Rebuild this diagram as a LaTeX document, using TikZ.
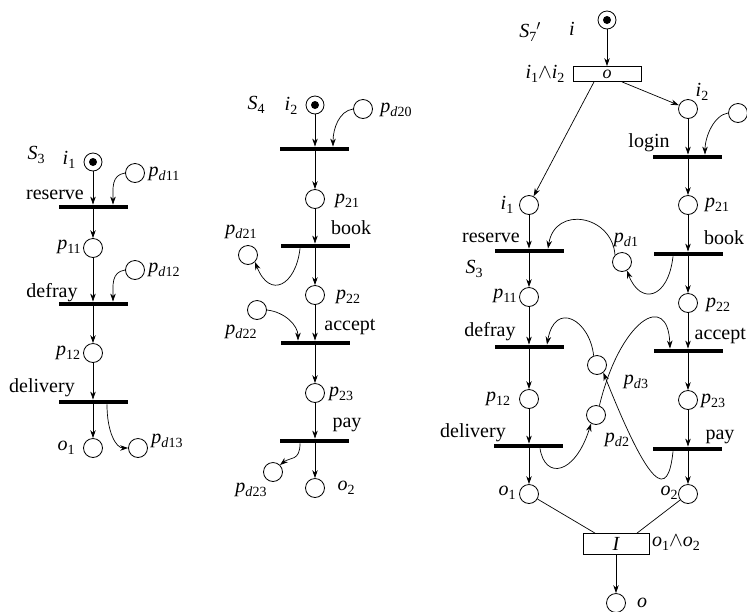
\documentclass[tikz,border=0pt]{standalone}
\usepackage{fontspec}
\setmainfont{Liberation Serif}
\usetikzlibrary{arrows.meta,calc}
\newcommand\lab[2]{\textit{#1}\raisebox{-0.22em}{\fontsize{14}{14}\selectfont #2}}
\newcommand\pd[1]{\lab{p}{\textit{d}#1}}
\begin{document}
\begin{tikzpicture}[x=1pt,y=-1pt,
 place/.style={circle,draw,line width=0.8pt,minimum size=19pt,inner sep=0pt},
 token/.style={place,minimum size=18pt,path picture={\fill (path picture bounding box.center) circle (4pt);}},
 bar/.style={fill=black,minimum width=69pt,minimum height=4.5pt,inner sep=0pt},
 tbox/.style={draw,line width=0.8pt,minimum width=68pt,minimum height=15pt,inner sep=0pt,font=\fontsize{18}{18}\selectfont\itshape},
 arc/.style={-{Stealth[length=8pt,width=5.5pt]},line width=0.7pt},
 ln/.style={line width=0.7pt},
 txt/.style={inner sep=0pt,font=\fontsize{20}{22}\selectfont},
]
\useasboundingbox (0,0) rectangle (747,611);

% ---------- left net S3 ----------
\node[token] (Li) at (93,162) {};
\node[bar] (Lr) at (93,207) {};
\node[place] (Lp11) at (93,248) {};
\node[bar] (Ld) at (93,304) {};
\node[place] (Lp12) at (93,353) {};
\node[bar] (Ldl) at (93,402) {};
\node[place] (Lo1) at (93,448) {};
\node[place] (Lpd11) at (135,173) {};
\node[place] (Lpd12) at (135,270) {};
\node[place] (Lpd13) at (138,448) {};

\draw[arc] (Li) -- (Li |- Lr.north);
\draw[arc] (Lr) -- (Lp11);
\draw[arc] (Lp11) -- (Lp11 |- Ld.north);
\draw[arc] (Ld) -- (Lp12);
\draw[arc] (Lp12) -- (Lp12 |- Ldl.north);
\draw[arc] (Ldl) -- (Lo1);
\draw[arc] (Lpd11.west) .. controls +(-14,2) and +(0,-16) .. ([xshift=20pt]Lr.north);
\draw[arc] (Lpd12.west) .. controls +(-14,2) and +(0,-16) .. ([xshift=20pt]Ld.north);
\draw[arc] ([xshift=14pt]Ldl.south) .. controls +(0,28) and +(-12,0) .. (Lpd13.west);

\node[txt] (tLS) at (36,155) {\lab{S}{3}};
\node[txt] (tLi) at (69,160) {\lab{i}{1}};
\node[txt] (tLpd11) at (164,174) {\pd{11}};
\node[txt] (tLres) at (55,195) {reserve};
\node[txt] (tLp11) at (69,247) {\lab{p}{11}};
\node[txt] (tLpd12) at (164,270) {\pd{12}};
\node[txt] (tLdef) at (52,293) {defray};
\node[txt] (tLp12) at (68,353) {\lab{p}{12}};
\node[txt] (tLdel) at (42,388) {delivery};
\node[txt] (tLo1) at (66,448) {\lab{o}{1}};
\node[txt] (tLpd13) at (167,441) {\pd{13}};

% ---------- middle net S4 ----------
\node[token] (Mi) at (315,105) {};
\node[place] (Mpd20) at (363,109) {};
\node[bar] (Mt0) at (314,149) {};
\node[place] (Mp21) at (315,199) {};
\node[bar] (Mb) at (315,246) {};
\node[place] (Mpd21) at (248,255) {};
\node[place] (Mp22) at (315,295) {};
\node[place] (Mpd22) at (257,310) {};
\node[bar] (Ma) at (315,343) {};
\node[place] (Mp23) at (315,393) {};
\node[bar] (Mpay) at (314,441) {};
\node[place] (Mpd23) at (273,472) {};
\node[place] (Mo2) at (315,488) {};

\draw[arc] (Mi) -- (Mi |- Mt0.north);
\draw[arc] (Mi |- Mt0.south) -- (Mp21);
\draw[arc] (Mp21) -- (Mp21 |- Mb.north);
\draw[arc] (Mp21 |- Mb.south) -- (Mp22);
\draw[arc] (Mp22) -- (Mp22 |- Ma.north);
\draw[arc] (Mp22 |- Ma.south) -- (Mp23);
\draw[arc] (Mp23) -- (Mp23 |- Mpay.north);
\draw[arc] (Mp23 |- Mpay.south) -- (Mo2);
\draw[arc] (Mpd20.west) .. controls +(-14,2) and +(0,-18) .. ([xshift=19pt]Mt0.north);
\draw[arc] ([xshift=-15pt]Mb.south) .. controls (296,285) and (270,300) .. (Mpd21.south east);
\draw[arc] (Mpd22.east) .. controls +(18,2) and +(0,-15) .. ([xshift=-17pt]Ma.north);
\draw[arc] ([xshift=-14pt]Mpay.south) .. controls +(0,18) and +(10,-8) .. (Mpd23.north east);

\node[txt] (tMS) at (256,105) {\lab{S}{4}};
\node[txt] (tMi) at (291,106) {\lab{i}{2}};
\node[txt] (tMpd20) at (396,110) {\pd{20}};
\node[txt] (tMp21) at (347,201) {\lab{p}{21}};
\node[txt] (tMbook) at (351,228) {book};
\node[txt] (tMpd21) at (241,232) {\pd{21}};
\node[txt] (tMp22) at (348,297) {\lab{p}{22}};
\node[txt] (tMacc) at (350,327) {accept};
\node[txt] (tMpd22) at (241,332) {\pd{22}};
\node[txt] (tMp23) at (341,394) {\lab{p}{23}};
\node[txt] (tMpay) at (347,425) {pay};
\node[txt] (tMpd23) at (251,490) {\pd{23}};
\node[txt] (tMo2) at (346,488) {\lab{o}{2}};

% ---------- right net S7' ----------
\node[token] (Ri) at (607,20) {};
\node[tbox] (Rbo) at (607,74) {o};
\node[place] (Ri2) at (688,109) {};
\node[place] (Rpd) at (738,113) {};
\node[bar] (Rlogin) at (687,157) {};
\node[place] (Ri1) at (529,205) {};
\node[place] (Rp21) at (688,205) {};
\node[bar] (Rres) at (529,251) {};
\node[bar] (Rbook) at (688,254) {};
\node[place] (Rpd1) at (622,262) {};
\node[place] (Rp11) at (529,297) {};
\node[place] (Rp22) at (688,303) {};
\node[bar] (Rdef) at (529,347) {};
\node[bar] (Racc) at (688,351) {};
\node[place] (Rpd3) at (597,365) {};
\node[place] (Rp12) at (529,399) {};
\node[place] (Rp23) at (688,400) {};
\node[place] (Rpd2) at (596,415) {};
\node[bar] (Rdel) at (528,446) {};
\node[bar] (Rpay) at (687,449) {};
\node[place] (Ro1) at (529,494) {};
\node[place] (Ro2) at (688,494) {};
\node[tbox,minimum width=66pt,minimum height=21pt,font=\fontsize{20}{20}\selectfont\itshape] (RI) at (616,544) {I};
\node[place] (Rout) at (616,603) {};

\draw[arc] (Ri) -- (Rbo);
\draw[arc] ([xshift=15pt]Rbo.south) -- (Ri2);
\draw[arc] ([xshift=-13pt]Rbo.south) -- (Ri1);
\draw[arc] (Ri2) -- (Ri2 |- Rlogin.north);
\draw[arc] (Ri2 |- Rlogin.south) -- (Rp21);
\draw[arc] (Rp21) -- (Rp21 |- Rbook.north);
\draw[arc] (Rp21 |- Rbook.south) -- (Rp22);
\draw[arc] (Rp22) -- (Rp22 |- Racc.north);
\draw[arc] (Rp22 |- Racc.south) -- (Rp23);
\draw[arc] (Rp23) -- (Rp23 |- Rpay.north);
\draw[arc] (Rp23 |- Rpay.south) -- (Ro2);
\draw[arc] (Ri1) -- (Ri1 |- Rres.north);
\draw[arc] (Ri1 |- Rres.south) -- (Rp11);
\draw[arc] (Rp11) -- (Rp11 |- Rdef.north);
\draw[arc] (Rp11 |- Rdef.south) -- (Rp12);
\draw[arc] (Rp12) -- (Rp12 |- Rdel.north);
\draw[arc] (Rp12 |- Rdel.south) -- (Ro1);
\draw[arc] (Rpd.west) .. controls +(-14,2) and +(0,-18) .. ([xshift=18pt]Rlogin.north);
\draw[arc] (Rpd1.north west) .. controls (612,215) and (555,205) .. ([xshift=19pt]Rres.north);
\draw[arc] ([xshift=-15pt]Rbook.south) .. controls (668,300) and (640,305) .. (Rpd1.-60);
\draw[arc] ([xshift=12pt]Rdel.south) .. controls (545,480) and (575,475) .. (Rpd2.-120);
\draw[arc] (Rpd2.70) .. controls (620,320) and (668,290) .. ([xshift=-18pt]Racc.north);
\draw[arc] ([xshift=-14pt]Rpay.south) .. controls (668,500) and (650,490) .. (Rpd3.-50);
\draw[arc] (Rpd3.110) .. controls (590,320) and (555,300) .. ([xshift=18pt]Rdef.north);
\draw[ln] (Ro1) -- ([xshift=-21pt]RI.north);
\draw[ln] (Ro2) -- ([xshift=21pt]RI.north);
\draw[arc] (RI) -- (Rout);

\node[txt] (tRS) at (530,32) {\lab{S}{7}${}'$};
\node[txt] (tRi) at (572,29) {\textit{i}};
\node[txt] (tRii) at (545,74) {\lab{i}{1}$\wedge$\lab{i}{2}};
\node[txt] (tRi2) at (702,92) {\lab{i}{2}};
\node[txt] (tRlogin) at (649,143) {login};
\node[txt] (tRi1) at (507,205) {\lab{i}{1}};
\node[txt] (tRp21) at (717,205) {\lab{p}{21}};
\node[txt] (tRres) at (491,238) {reserve};
\node[txt] (tRpd1) at (626,240) {\pd{1}};
\node[txt] (tRbook) at (724,238) {book};
\node[txt] (tRS3) at (474,269) {\lab{S}{3}};
\node[txt] (tRp11) at (505,296) {\lab{p}{11}};
\node[txt] (tRp22) at (718,305) {\lab{p}{22}};
\node[txt] (tRdef) at (490,332) {defray};
\node[txt,anchor=east] (tRacc) at (746,336) {accept};
\node[txt] (tRpd3) at (636,382) {\pd{3}};
\node[txt] (tRp12) at (498,399) {\lab{p}{12}};
\node[txt] (tRp23) at (713,401) {\lab{p}{23}};
\node[txt] (tRpd2) at (617,440) {\pd{2}};
\node[txt] (tRdel) at (473,433) {delivery};
\node[txt] (tRpay) at (720,437) {pay};
\node[txt] (tRo1) at (507,493) {\lab{o}{1}};
\node[txt] (tRo2) at (669,493) {\lab{o}{2}};
\node[txt] (tRoo) at (676,543) {\lab{o}{1}$\wedge$\lab{o}{2}};
\node[txt] (tRout) at (642,603) {\textit{o}};
\end{tikzpicture}
\end{document}
